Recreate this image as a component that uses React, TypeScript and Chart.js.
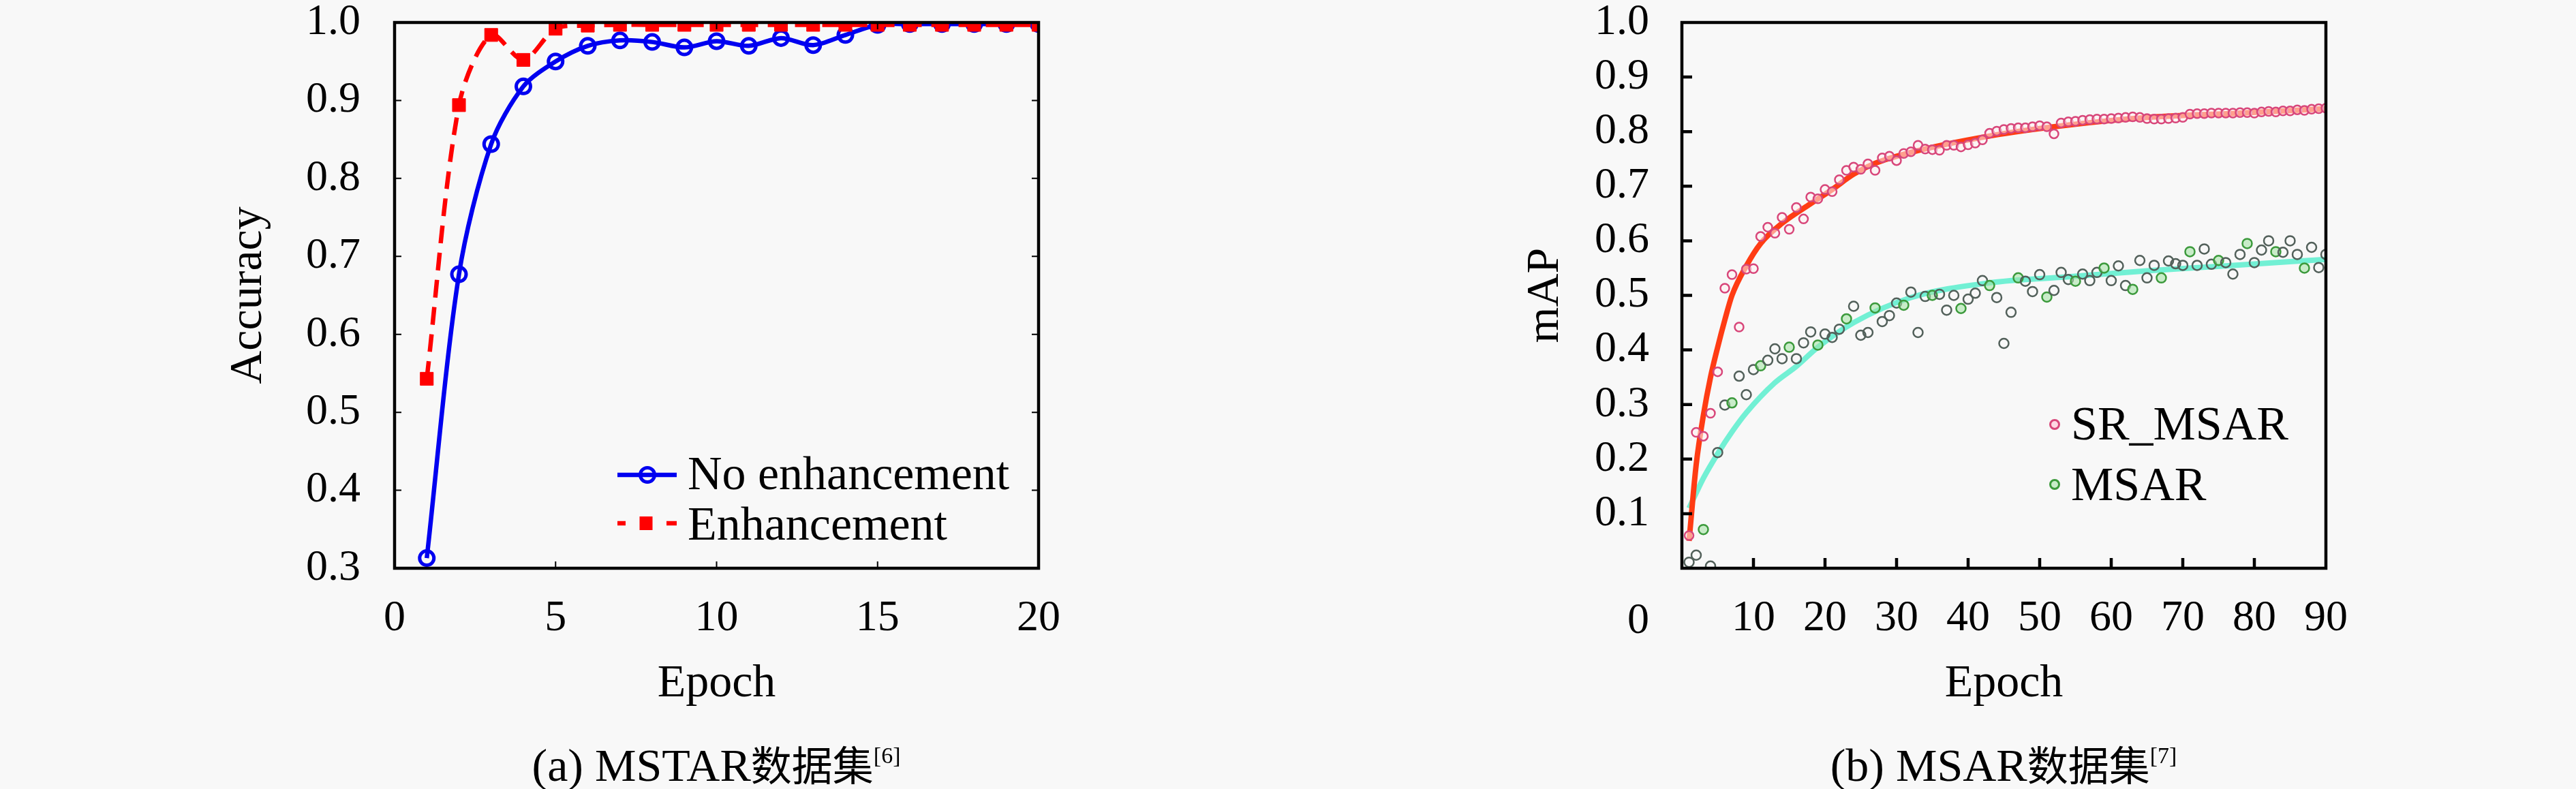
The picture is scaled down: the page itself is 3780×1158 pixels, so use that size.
import React, { useEffect, useRef } from 'react';
import { Chart, registerables } from 'chart.js';

Chart.register(...registerables);

const FONT = "'Liberation Serif', 'Times New Roman', serif";
const CJK = "'Noto Sans CJK SC', sans-serif";

// ---------- (a) MSTAR ----------
const epochsA = [1, 2, 3, 4, 5, 6, 7, 8, 9, 10, 11, 12, 13, 14, 15, 16, 17, 18, 19, 20];
const noEnhancement = [0.313, 0.677, 0.844, 0.918, 0.95, 0.97, 0.977, 0.975, 0.968, 0.976, 0.97, 0.98, 0.971, 0.984, 0.997, 0.998, 0.998, 0.998, 0.998, 0.998];
const enhancement = [0.543, 0.894, 0.984, 0.952, 0.992, 0.996, 0.997, 0.997, 0.997, 0.997, 0.997, 0.997, 0.997, 0.997, 0.997, 0.997, 0.997, 0.997, 0.997, 0.997];
const seriesNamesA = ['No enhancement', 'Enhancement'];
const titleXA = 'Epoch';
const titleYA = 'Accuracy';

// ---------- (b) MSAR ----------
const epochsB = [
  1, 2, 3, 4, 5, 6, 7, 8, 9, 10, 11, 12, 13, 14, 15, 16, 17, 18, 19, 20,
  21, 22, 23, 24, 25, 26, 27, 28, 29, 30, 31, 32, 33, 34, 35, 36, 37, 38, 39, 40,
  41, 42, 43, 44, 45, 46, 47, 48, 49, 50, 51, 52, 53, 54, 55, 56, 57, 58, 59, 60,
  61, 62, 63, 64, 65, 66, 67, 68, 69, 70, 71, 72, 73, 74, 75, 76, 77, 78, 79, 80,
  81, 82, 83, 84, 85, 86, 87, 88, 89, 90,
];
const srMsar = [
  0.06, 0.249, 0.242, 0.284, 0.36, 0.513, 0.538, 0.442, 0.548, 0.549,
  0.608, 0.625, 0.614, 0.643, 0.621, 0.661, 0.64, 0.68, 0.677, 0.694,
  0.69, 0.712, 0.729, 0.735, 0.731, 0.741, 0.729, 0.752, 0.755, 0.747,
  0.76, 0.763, 0.775, 0.768, 0.767, 0.766, 0.775, 0.775, 0.772, 0.776,
  0.779, 0.785, 0.797, 0.801, 0.804, 0.806, 0.807, 0.807, 0.809, 0.811,
  0.809, 0.796, 0.816, 0.818, 0.819, 0.821, 0.822, 0.823, 0.823, 0.824,
  0.825, 0.826, 0.827, 0.826, 0.824, 0.823, 0.823, 0.824, 0.825, 0.826,
  0.832, 0.833, 0.833, 0.834, 0.834, 0.834, 0.834, 0.835, 0.835, 0.834,
  0.836, 0.837, 0.836, 0.838, 0.838, 0.84, 0.839, 0.841, 0.842, 0.843,
];
const msar = [
  0.011, 0.024, 0.071, 0.004, 0.212, 0.299, 0.303, 0.352, 0.318, 0.364,
  0.371, 0.381, 0.402, 0.384, 0.405, 0.384, 0.413, 0.433, 0.409, 0.429,
  0.423, 0.438, 0.457, 0.48, 0.427, 0.432, 0.477, 0.452, 0.463, 0.486,
  0.482, 0.506, 0.432, 0.498, 0.5, 0.502, 0.473, 0.5, 0.476, 0.493,
  0.504, 0.527, 0.518, 0.496, 0.412, 0.469, 0.532, 0.526, 0.507, 0.538,
  0.497, 0.509, 0.542, 0.529, 0.526, 0.539, 0.527, 0.542, 0.55, 0.527,
  0.554, 0.518, 0.511, 0.564, 0.532, 0.555, 0.532, 0.563, 0.558, 0.555,
  0.58, 0.555, 0.585, 0.557, 0.564, 0.56, 0.539, 0.575, 0.595, 0.56,
  0.583, 0.6, 0.58, 0.579, 0.6, 0.575, 0.55, 0.588, 0.551, 0.575,
];
const srFitEpochs = [1, 2, 3, 4, 5, 6, 7, 9, 11, 14, 18, 21, 24, 27, 32, 43, 54, 65, 78, 90];
const srFit = [0.05, 0.19, 0.28, 0.35, 0.405, 0.455, 0.5, 0.554, 0.595, 0.632, 0.668, 0.694, 0.722, 0.742, 0.762, 0.792, 0.812, 0.826, 0.834, 0.842];
const msarFitEpochs = [1, 3, 5, 7, 9, 13, 16, 19, 24, 32, 43, 54, 65, 76, 90];
const msarFit = [0.11, 0.165, 0.21, 0.25, 0.285, 0.34, 0.37, 0.405, 0.45, 0.496, 0.523, 0.534, 0.545, 0.554, 0.566];
const seriesNamesB = ['SR_MSAR', 'MSAR'];
const titleXB = 'Epoch';
const titleYB = 'mAP';

const captionA = { prefix: '(a) MSTAR', cjk: '数据集', ref: '[6]' };
const captionB = { prefix: '(b) MSAR', cjk: '数据集', ref: '[7]' };

const toXY = (xs: number[], ys: number[]) => xs.map((x, i) => ({ x, y: ys[i] }));

function makeFramePlugin(o: { tickLen: number; tickWidth: number; frameWidth: number; mirror: boolean }) {
  return {
    id: 'frameTicks',
    afterDatasetsDraw(chart: any) {
      const { ctx, chartArea: a } = chart;
      const xs = chart.scales.x;
      const ys = chart.scales.y;
      const eps = 1e-6;
      ctx.save();
      ctx.strokeStyle = '#000';
      ctx.lineCap = 'butt';
      ctx.lineWidth = o.tickWidth;
      ctx.beginPath();
      ys.ticks.forEach((t: any) => {
        if (t.value <= ys.min + eps || t.value >= ys.max - eps) return;
        const p = ys.getPixelForValue(t.value);
        ctx.moveTo(a.left, p);
        ctx.lineTo(a.left + o.tickLen, p);
        if (o.mirror) {
          ctx.moveTo(a.right, p);
          ctx.lineTo(a.right - o.tickLen, p);
        }
      });
      xs.ticks.forEach((t: any) => {
        if (t.value <= xs.min + eps || t.value >= xs.max - eps) return;
        const p = xs.getPixelForValue(t.value);
        ctx.moveTo(p, a.bottom);
        ctx.lineTo(p, a.bottom - o.tickLen);
        if (o.mirror) {
          ctx.moveTo(p, a.top);
          ctx.lineTo(p, a.top + o.tickLen);
        }
      });
      ctx.stroke();
      ctx.lineWidth = o.frameWidth;
      ctx.strokeRect(a.left, a.top, a.right - a.left, a.bottom - a.top);
      ctx.restore();
    },
  };
}

const legendPluginA = {
  id: 'legendA',
  afterDraw(chart: any) {
    const { ctx, chartArea: a } = chart;
    ctx.save();
    ctx.font = `70px ${FONT}`;
    ctx.fillStyle = '#000';
    ctx.textAlign = 'left';
    ctx.textBaseline = 'alphabetic';
    // row 1
    let y = a.top + 664;
    ctx.strokeStyle = '#0000f0';
    ctx.lineWidth = 6.5;
    ctx.beginPath();
    ctx.moveTo(a.left + 327, y);
    ctx.lineTo(a.left + 414, y);
    ctx.stroke();
    ctx.lineWidth = 5;
    ctx.beginPath();
    ctx.arc(a.left + 371, y, 10.5, 0, Math.PI * 2);
    ctx.stroke();
    ctx.fillText(seriesNamesA[0], a.left + 430, a.top + 685);
    // row 2
    y = a.top + 735;
    ctx.strokeStyle = '#ff0000';
    ctx.lineWidth = 6.5;
    ctx.beginPath();
    ctx.moveTo(a.left + 327, y);
    ctx.lineTo(a.left + 339, y);
    ctx.moveTo(a.left + 399, y);
    ctx.lineTo(a.left + 414, y);
    ctx.stroke();
    ctx.fillStyle = '#ff0000';
    ctx.fillRect(a.left + 369 - 9.5, y - 10, 19, 20);
    ctx.fillStyle = '#000';
    ctx.fillText(seriesNamesA[1], a.left + 430, a.top + 759);
    ctx.restore();
  },
};

const legendPluginB = {
  id: 'legendB',
  afterDraw(chart: any) {
    const { ctx, chartArea: a } = chart;
    ctx.save();
    ctx.font = `70px ${FONT}`;
    ctx.textAlign = 'left';
    ctx.textBaseline = 'alphabetic';
    const rows = [
      { name: seriesNamesB[0], stroke: '#d8467a', fill: '#ffd6e2', cy: 590, base: 612 },
      { name: seriesNamesB[1], stroke: '#3c9a3c', fill: '#c8ecc8', cy: 678, base: 701 },
    ];
    rows.forEach((r) => {
      ctx.beginPath();
      ctx.arc(a.left + 547, a.top + r.cy, 6.5, 0, Math.PI * 2);
      ctx.fillStyle = r.fill;
      ctx.fill();
      ctx.lineWidth = 3;
      ctx.strokeStyle = r.stroke;
      ctx.stroke();
      ctx.fillStyle = '#000';
      ctx.fillText(r.name, a.left + 571, a.top + r.base);
    });
    ctx.restore();
  },
};

function fixBox(width?: number, height?: number) {
  return (s: any) => {
    if (width !== undefined) s.width = width;
    if (height !== undefined) s.height = height;
    s.paddingTop = 0;
    s.paddingBottom = 0;
    s.paddingLeft = 0;
    s.paddingRight = 0;
  };
}

const tickFont = { family: FONT, size: 64 };
const titleFont = { family: FONT, size: 68 };

function configA(): any {
  return {
    type: 'line',
    data: {
      datasets: [
        {
          label: seriesNamesA[0],
          data: toXY(epochsA, noEnhancement),
          borderColor: '#0000f0',
          borderWidth: 6.5,
          tension: 0.3,
          pointStyle: 'circle',
          pointRadius: 10.5,
          pointBorderWidth: 5,
          pointBorderColor: '#0000f0',
          pointBackgroundColor: 'rgba(0,0,0,0)',
          order: 2,
        },
        {
          label: seriesNamesA[1],
          data: toXY(epochsA, enhancement),
          borderColor: '#ff0000',
          borderWidth: 6.5,
          borderDash: [26, 14],
          tension: 0.3,
          pointStyle: 'rect',
          pointRadius: 13.5,
          pointBorderWidth: 1,
          pointBorderColor: '#ff0000',
          pointBackgroundColor: '#ff0000',
          order: 1,
        },
      ],
    },
    options: {
      animation: false,
      responsive: false,
      devicePixelRatio: 1,
      events: [],
      layout: { padding: { top: 33, right: 1890 - 1524, left: 0, bottom: 0 } },
      plugins: { legend: { display: false }, tooltip: { enabled: false } },
      scales: {
        x: {
          type: 'linear',
          min: 0,
          max: 20,
          grid: { display: false, drawTicks: false },
          border: { display: false },
          ticks: { stepSize: 5, font: tickFont, color: '#000', padding: 36, maxRotation: 0, autoSkip: false },
          title: { display: true, text: titleXA, font: titleFont, color: '#000', padding: { top: 0, bottom: 113 } },
          afterFit: fixBox(undefined, 1158 - 834),
        },
        y: {
          type: 'linear',
          min: 0.3,
          max: 1.0,
          grid: { display: false, drawTicks: false },
          border: { display: false },
          ticks: {
            stepSize: 0.1,
            font: tickFont,
            color: '#000',
            padding: 50,
            autoSkip: false,
            callback: (v: any) => Number(v).toFixed(1),
          },
          title: { display: true, text: titleYA, font: titleFont, color: '#000', padding: { top: 324, bottom: 0 } },
          afterFit: fixBox(579, undefined),
        },
      },
    },
    plugins: [makeFramePlugin({ tickLen: 10, tickWidth: 2, frameWidth: 4.5, mirror: true }), legendPluginA],
  };
}

function configB(): any {
  return {
    type: 'line',
    data: {
      datasets: [
        {
          label: seriesNamesB[0],
          data: toXY(epochsB, srMsar),
          showLine: false,
          pointStyle: 'circle',
          pointRadius: 6.5,
          pointBorderWidth: 2.5,
          pointBorderColor: '#d8467a',
          pointBackgroundColor: 'rgba(255,240,240,0.55)',
          order: 1,
        },
        {
          label: seriesNamesB[1],
          data: toXY(epochsB, msar),
          showLine: false,
          pointStyle: 'circle',
          pointRadius: 7,
          pointBorderWidth: 2.5,
          pointBorderColor: (c: any) => (c.dataIndex % 4 === 2 ? '#3c9a3c' : '#52605a'),
          pointBackgroundColor: (c: any) => (c.dataIndex % 4 === 2 ? 'rgba(160,225,160,0.55)' : 'rgba(0,0,0,0)'),
          order: 1,
        },
        {
          label: 'SR_MSAR fit',
          data: toXY(srFitEpochs, srFit),
          borderColor: '#ff3c14',
          borderWidth: 8,
          pointRadius: 0,
          cubicInterpolationMode: 'monotone',
          order: 2,
        },
        {
          label: 'MSAR fit',
          data: toXY(msarFitEpochs, msarFit),
          borderColor: '#72f0d4',
          borderWidth: 8,
          pointRadius: 0,
          cubicInterpolationMode: 'monotone',
          order: 3,
        },
      ],
    },
    options: {
      animation: false,
      responsive: false,
      devicePixelRatio: 1,
      events: [],
      layout: { padding: { top: 33, right: 1890 - 1523, left: 0, bottom: 0 } },
      plugins: { legend: { display: false }, tooltip: { enabled: false } },
      scales: {
        x: {
          type: 'linear',
          min: 0,
          max: 90,
          grid: { display: false, drawTicks: false },
          border: { display: false },
          ticks: {
            stepSize: 10,
            font: tickFont,
            color: '#000',
            padding: 36,
            maxRotation: 0,
            autoSkip: false,
            callback: (v: any) => (Math.abs(Number(v)) < 1e-9 ? '' : String(v)),
          },
          title: { display: true, text: titleXB, font: titleFont, color: '#000', padding: { top: 0, bottom: 113 } },
          afterFit: fixBox(undefined, 1158 - 834),
        },
        y: {
          type: 'linear',
          min: 0,
          max: 1.0,
          grid: { display: false, drawTicks: false },
          border: { display: false },
          ticks: {
            stepSize: 0.1,
            font: tickFont,
            color: '#000',
            padding: 48,
            autoSkip: false,
            callback: (v: any) => (Math.abs(Number(v)) < 1e-9 ? '' : Number(v).toFixed(1)),
          },
          title: { display: true, text: titleYB, font: titleFont, color: '#000', padding: { top: 337, bottom: 0 } },
          afterFit: fixBox(578, undefined),
        },
      },
    },
    plugins: [makeFramePlugin({ tickLen: 15, tickWidth: 4.5, frameWidth: 4.5, mirror: false }), legendPluginB],
  };
}

function Caption({ cx, c }: { cx: number; c: { prefix: string; cjk: string; ref: string } }) {
  return (
    <div
      style={{
        position: 'absolute',
        left: cx,
        top: 1086,
        transform: 'translateX(-50%)',
        whiteSpace: 'nowrap',
        fontFamily: FONT,
        fontSize: 68,
        lineHeight: '68px',
        color: '#000',
      }}
    >
      {c.prefix}
      <span style={{ fontFamily: CJK, fontSize: 60 }}>{c.cjk}</span>
      <span style={{ fontSize: 34, position: 'relative', top: -26 }}>{c.ref}</span>
    </div>
  );
}

export default function App() {
  const refA = useRef<HTMLCanvasElement>(null);
  const refB = useRef<HTMLCanvasElement>(null);

  useEffect(() => {
    const a = new Chart(refA.current as HTMLCanvasElement, configA());
    const b = new Chart(refB.current as HTMLCanvasElement, configB());
    return () => {
      a.destroy();
      b.destroy();
    };
  }, []);

  return (
    <div
      style={{
        position: 'fixed',
        left: 0,
        top: 0,
        width: 3780,
        height: 1158,
        background: '#f8f8f8',
        overflow: 'hidden',
      }}
    >
      <div style={{ position: 'absolute', left: 0, top: 0, width: 1890, height: 1158 }}>
        <canvas ref={refA} width={1890} height={1158} style={{ display: 'block', width: 1890, height: 1158 }} />
      </div>
      <div style={{ position: 'absolute', left: 1890, top: 0, width: 1890, height: 1158 }}>
        <canvas ref={refB} width={1890} height={1158} style={{ display: 'block', width: 1890, height: 1158 }} />
      </div>
      <div
        style={{
          position: 'absolute',
          left: 2404,
          top: 908,
          transform: 'translate(-50%, -50%)',
          fontFamily: FONT,
          fontSize: 64,
          lineHeight: '64px',
          color: '#000',
        }}
      >
        0
      </div>
      <Caption cx={1051} c={captionA} />
      <Caption cx={2940} c={captionB} />
    </div>
  );
}
